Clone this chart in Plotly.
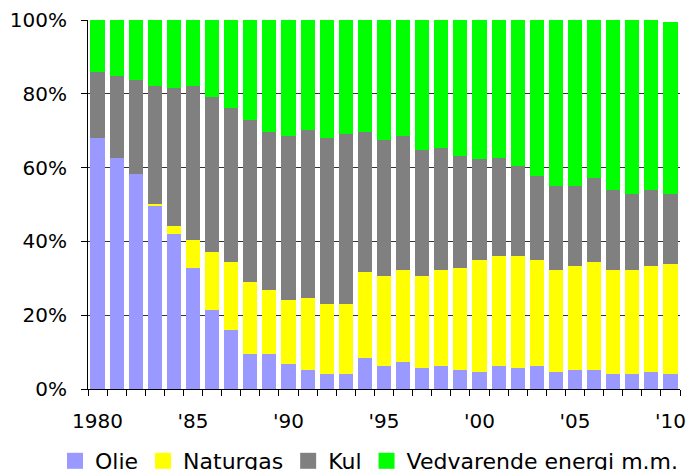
import plotly.graph_objects as go

years = list(range(1980, 2011))
tick_years = [1980, 1985, 1990, 1995, 2000, 2005, 2010]
tick_labels = ["1980", "'85", "'90", "'95", "'00", "'05", "'10"]
y_ticks = [0, 20, 40, 60, 80, 100]
y_tick_labels = ["0%", "20%", "40%", "60%", "80%", "100%"]

olie = [68.1, 62.6, 58.4, 49.6, 42.0, 32.9, 21.4, 16.0, 9.6, 9.6, 6.9, 5.2, 4.2, 4.2, 8.5, 6.3,
        7.4, 5.8, 6.3, 5.2, 4.7, 6.3, 5.8, 6.3, 4.7, 5.2, 5.2, 4.2, 4.2, 4.7, 4.2]
naturgas = [0.0, 0.0, 0.0, 0.6, 2.2, 7.6, 15.7, 18.4, 19.4, 17.2, 17.2, 19.5, 18.8, 18.8, 23.3, 24.4,
            24.9, 24.9, 26.0, 27.7, 30.3, 29.8, 30.3, 28.7, 27.6, 28.2, 29.3, 28.1, 28.1, 28.7, 29.8]
kul = [17.9, 22.2, 25.3, 31.9, 37.4, 41.6, 41.9, 41.8, 44.0, 42.9, 44.6, 45.6, 45.1, 46.2, 37.9, 36.9,
       36.4, 34.2, 33.1, 30.3, 27.2, 26.6, 24.4, 22.8, 22.8, 21.7, 22.8, 21.7, 20.6, 20.6, 18.9]
vedvarende = [14.0, 15.2, 16.3, 17.9, 18.4, 17.9, 21.0, 23.8, 27.0, 30.3, 31.3, 29.7, 31.9, 30.8, 30.3, 32.4,
              31.3, 35.1, 34.6, 36.8, 37.8, 37.3, 39.5, 42.2, 44.9, 44.9, 42.7, 46.0, 47.1, 46.0, 46.6]

series = [
    ("Olie", olie, "#9999FF"),
    ("Naturgas", naturgas, "#FFFF00"),
    ("Kul", kul, "#808080"),
    ("Vedvarende energi m.m.", vedvarende, "#00FF00"),
]

FONT = "DejaVu Sans, Verdana, sans-serif"

fig = go.Figure()
for name, vals, col in series:
    fig.add_trace(go.Bar(x=years, y=vals, name=name, legendgroup=name, showlegend=False,
                         marker=dict(color=col, line=dict(width=0))))
# legend entries with larger square swatches
for name, vals, col in series:
    fig.add_trace(go.Scatter(x=[None], y=[None], mode="markers", name=name, legendgroup=name,
                             showlegend=True, hoverinfo="skip",
                             marker=dict(symbol="square", size=17, color=col, line=dict(width=0))))

fig.update_layout(
    barmode="stack",
    bargap=0.26,
    width=688, height=470,
    margin=dict(l=88, r=8, t=20, b=81, pad=0, autoexpand=False),
    paper_bgcolor="white", plot_bgcolor="white",
    font=dict(family=FONT, size=20, color="black"),
    showlegend=True,
    legend=dict(orientation="h", x=(55 - 88) / 592, xanchor="left",
                y=(389 - 461) / 369, yanchor="middle",
                font=dict(size=22), itemwidth=30, traceorder="normal",
                bgcolor="rgba(0,0,0,0)"),
    xaxis=dict(range=[1979.5, 2010.5], tickvals=tick_years, ticktext=tick_labels,
               ticks="", showgrid=False, showline=True, linecolor="black", linewidth=1,
               ticklabelstandoff=14,
               minor=dict(tick0=1979.5, dtick=1, ticks="outside", ticklen=6, tickcolor="black", showgrid=False),
               zeroline=False),
    yaxis=dict(range=[0, 100], tickvals=y_ticks, ticktext=y_tick_labels,
               ticks="outside", ticklen=6, tickcolor="black", showgrid=True, gridcolor="#333333",
               gridwidth=1, showline=True, linecolor="black", linewidth=1, zeroline=False,
               ticklabelstandoff=10),
)

fig.write_html("out.html")
